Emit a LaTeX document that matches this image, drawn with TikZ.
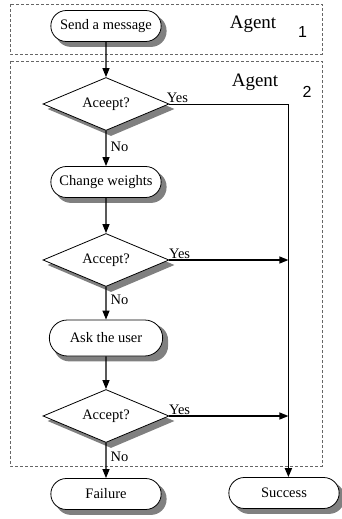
\documentclass[tikz,border=0pt]{standalone}
\usepackage{fontspec}
\setmainfont{Liberation Serif}
\newfontfamily\numfont{Liberation Sans}
\usetikzlibrary{shapes.geometric, shapes.misc, arrows.meta, backgrounds, calc}
\tikzstyle{startstop} = [
    rounded rectangle,
    minimum width=117pt,
    minimum height=31pt,
    line width=0.8pt,
    draw=black,
    fill=white,
    font=\fontsize{14.5}{17}\selectfont
]
\tikzstyle{decision} = [
    diamond,
    aspect=2.4,
    minimum width=126pt,
    minimum height=53pt,
    inner sep=0pt,
    line width=0.8pt,
    draw=black,
    fill=white,
    font=\fontsize{14.5}{17}\selectfont
]
\tikzstyle{shadowfill} = [fill=black!50, draw=none]
\tikzstyle{lane} = [black!60, line width=0.6pt, dash pattern=on 3pt off 2pt]
\tikzstyle{tag} = [font=\fontsize{14.5}{17}\selectfont, inner sep=1pt]
\tikzstyle{arrow} = [line width=1.2pt,-{Triangle[length=9pt,width=7pt]}]

\begin{document}
\begin{tikzpicture}[x=1pt, y=1pt, node distance=78pt]
\useasboundingbox (0,0) rectangle (341,-519);

% agent areas
\draw [lane] (10,-4) rectangle (322,-54);
\draw [lane] (10,-61) rectangle (322,-466);
\node (agent1) [anchor=base] at (253,-29) {\fontsize{19}{22}\selectfont Agent};
\node (num1) at (302.5,-31.5) {\numfont\fontsize{16}{18}\selectfont 1};
\node (agent2) [anchor=base] at (255,-86) {\fontsize{19}{22}\selectfont Agent};
\node (num2) at (307,-92) {\numfont\fontsize{16}{18}\selectfont 2};

\node (send) [startstop] at (106,-26) {Send a message};

\node (check1) [decision, below of=send] {Aceept?};

\node (weights) [startstop, below of=check1] {Change weights};

\node (check2) [decision, below of=weights] {Accept?};

\node (ask) [startstop, below of=check2, minimum width=120pt, minimum height=36pt]
{Ask the user};

\node (check3) [decision, below of=ask] {Accept?};

\node (failure) [startstop, below of=check3] {Failure};

\node (success) [startstop] at (284,-493) {Success};

% shadows
\begin{scope}[on background layer]
\foreach \n in {send, weights, ask, failure, success}
  \fill [shadowfill, rounded corners=15.5pt]
    ($(\n.south -| \n.west)+(5pt,-5pt)$) rectangle
    ($(\n.north -| \n.east)+(5pt,-5pt)$);
\foreach \n in {check1, check2, check3}
  \fill [shadowfill]
    ([xshift=5pt, yshift=-5pt]\n.north) -- ([xshift=5pt, yshift=-5pt]\n.east) --
    ([xshift=5pt, yshift=-5pt]\n.south) -- ([xshift=5pt, yshift=-5pt]\n.west) -- cycle;
\end{scope}

\coordinate (join) at ([xshift=119pt]check1.east);

\draw [arrow] (send) -- (check1);
\draw [line width=0.9pt] (check1.east) -- (join)
    node [tag, pos=0, anchor=south west, xshift=-4pt] {Yes};
\draw [arrow, line width=1.8pt] (join) -- (join |- success.north);
\draw [arrow] (check1) -- (weights) node [tag, right, pos=0.45, xshift=3pt] {No};
\draw [arrow] (weights) -- (check2);
\draw [arrow] (check2.east) -- (check2.east -| join)
    node [tag, pos=0, anchor=south west, xshift=-2pt] {Yes};
\draw [arrow] (check2) -- (ask) node [tag, right, pos=0.4, xshift=3pt] {No};
\draw [arrow] (ask) -- (check3);
\draw [arrow] (check3.east) -- (check3.east -| join)
    node [tag, pos=0, anchor=south west, xshift=-2pt] {Yes};
\draw [arrow] (check3) -- (failure) node [tag, right, pos=0.4, xshift=3pt] {No};

\end{tikzpicture}
\end{document}
